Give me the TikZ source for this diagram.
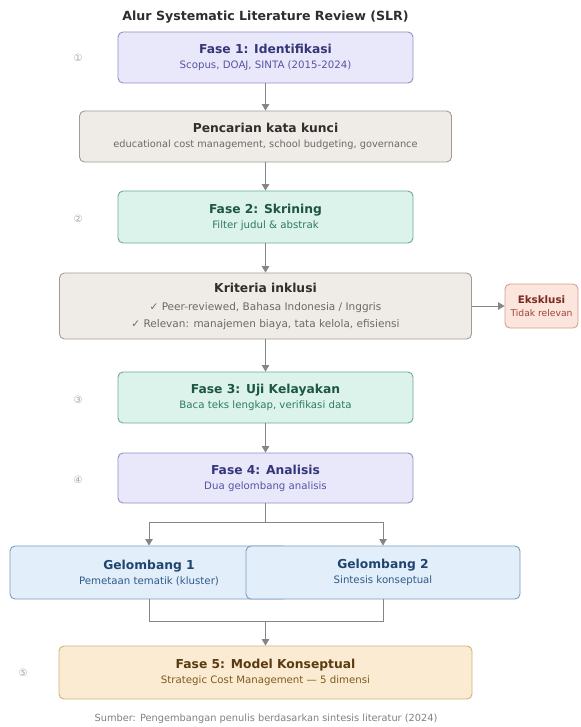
\documentclass[tikz,border=0pt]{standalone}
\usepackage{fontspec}
\setmainfont{DejaVu Sans}
\usetikzlibrary{arrows.meta}
\definecolor{unguBg}{HTML}{E9E8FB}
\definecolor{unguLn}{HTML}{9090C4}
\definecolor{unguTt}{HTML}{35357A}
\definecolor{unguSb}{HTML}{5555A0}
\definecolor{abuBg}{HTML}{EFEBE6}
\definecolor{abuLn}{HTML}{A29C96}
\definecolor{abuTt}{HTML}{2E2E2E}
\definecolor{abuSb}{HTML}{6A6A6A}
\definecolor{hijauBg}{HTML}{DCF3EB}
\definecolor{hijauLn}{HTML}{6FA995}
\definecolor{hijauTt}{HTML}{1D5644}
\definecolor{hijauSb}{HTML}{2D7A62}
\definecolor{merahBg}{HTML}{FBE5DC}
\definecolor{merahLn}{HTML}{D69E8E}
\definecolor{merahTt}{HTML}{7A2A20}
\definecolor{merahSb}{HTML}{A04535}
\definecolor{biruBg}{HTML}{E2EEF9}
\definecolor{biruLn}{HTML}{7C9DBF}
\definecolor{biruTt}{HTML}{1F4470}
\definecolor{biruSb}{HTML}{2F5A88}
\definecolor{emasBg}{HTML}{FBEBD2}
\definecolor{emasLn}{HTML}{CDB47C}
\definecolor{emasTt}{HTML}{5A3A10}
\definecolor{emasSb}{HTML}{7D5C1A}
\definecolor{garisC}{HTML}{858585}
\newcommand{\judul}{\fontsize{12.3}{14}\selectfont\bfseries}
\begin{document}
\begin{tikzpicture}[x=1pt,y=-1pt,
	kotak/.style={rectangle,rounded corners=5pt,line width=0.9pt,align=center,inner sep=0pt,font=\fontsize{10.2}{12}\selectfont},
	ungu/.style={kotak,fill=unguBg,draw=unguLn,text=unguSb},
	abu/.style={kotak,fill=abuBg,draw=abuLn,text=abuSb},
	hijau/.style={kotak,fill=hijauBg,draw=hijauLn,text=hijauSb},
	merah/.style={kotak,fill=merahBg,draw=merahLn,text=merahSb},
	biru/.style={kotak,fill=biruBg,draw=biruLn,text=biruSb},
	emas/.style={kotak,fill=emasBg,draw=emasLn,text=emasSb},
	garis/.style={draw=garisC,line width=0.9pt},
	panah/.style={garis,-{Triangle[width=7.5pt,length=6.5pt]}},
	nomor/.style={text=black!35,font=\fontsize{10}{10}\selectfont}]
	\useasboundingbox (0,0) rectangle (580,727);
	\node[text=abuTt,font=\fontsize{12.6}{14}\selectfont\bfseries] (judul) at (265.5,17) {Alur Systematic Literature Review (SLR)};
	\node[ungu,minimum width=295pt,minimum height=51pt] (fase1) at (265.5,57.5) {{\color{unguTt}\judul Fase 1: Identifikasi}\\[3pt]Scopus, DOAJ, SINTA (2015-2024)};
	\node[abu,minimum width=372pt,minimum height=51pt,font=\fontsize{9.8}{12}\selectfont] (cari) at (265.5,136.5) {{\color{abuTt}\judul Pencarian kata kunci}\\[3pt]educational cost management, school budgeting, governance};
	\node[hijau,minimum width=295pt,minimum height=52pt] (fase2) at (265.5,217) {{\color{hijauTt}\judul Fase 2: Skrining}\\[3pt]Filter judul \& abstrak};
	\node[abu,minimum width=412pt,minimum height=66pt,font=\fontsize{10.5}{12}\selectfont] (kriteria) at (265.5,306) {{\color{abuTt}\judul Kriteria inklusi}\\[6pt]✓ Peer-reviewed, Bahasa Indonesia / Inggris\\[5pt]✓ Relevan: manajemen biaya, tata kelola, efisiensi};
	\node[merah,minimum width=73pt,minimum height=44pt,font=\fontsize{9.2}{11}\selectfont] (eks) at (541.5,306) {{\color{merahTt}\fontsize{10.3}{12}\selectfont\bfseries Eksklusi}\\[2pt]Tidak relevan};
	\node[hijau,minimum width=295pt,minimum height=51pt] (fase3) at (265.5,397.5) {{\color{hijauTt}\judul Fase 3: Uji Kelayakan}\\[3pt]Baca teks lengkap, verifikasi data};
	\node[ungu,minimum width=295pt,minimum height=50pt] (fase4) at (265.5,478) {{\color{unguTt}\judul Fase 4: Analisis}\\[3pt]Dua gelombang analisis};
	\node[biru,minimum width=278pt,minimum height=53pt] (g1) at (149,572.5) {{\color{biruTt}\judul Gelombang 1}\\[3pt]Pemetaan tematik (kluster)};
	\node[biru,minimum width=274pt,minimum height=53pt] (g2) at (383,572.5) {{\color{biruTt}\judul Gelombang 2}\\[3pt]Sintesis konseptual};
	\node[emas,minimum width=413pt,minimum height=53pt] (fase5) at (265.5,672.5) {{\color{emasTt}\judul Fase 5: Model Konseptual}\\[3pt]Strategic Cost Management — 5 dimensi};
	\node[text=black!50,font=\fontsize{9.8}{11}\selectfont] (sumber) at (266,719) {Sumber: Pengembangan penulis berdasarkan sintesis literatur (2024)};
	\node[nomor] (n1) at (78,58) {①};
	\node[nomor] (n2) at (78,219) {②};
	\node[nomor] (n3) at (78,400) {③};
	\node[nomor] (n4) at (78,480) {④};
	\node[nomor] (n5) at (23,673) {⑤};
	\coordinate (pisah) at (265.5,522);
	\coordinate (gabung) at (265.5,621);
	\draw[panah] (fase1) -- (cari);
	\draw[panah] (cari) -- (fase2);
	\draw[panah] (fase2) -- (kriteria);
	\draw[panah] (kriteria) -- (fase3);
	\draw[panah] (fase3) -- (fase4);
	\draw[panah] (kriteria) -- (eks);
	\draw[garis] (fase4) -- (pisah);
	\draw[panah] (pisah) -| (g1);
	\draw[panah] (pisah) -| (g2);
	\draw[garis] (g1) |- (gabung);
	\draw[garis] (g2) |- (gabung);
	\draw[panah] (gabung) -- (fase5);
\end{tikzpicture}
\end{document}
